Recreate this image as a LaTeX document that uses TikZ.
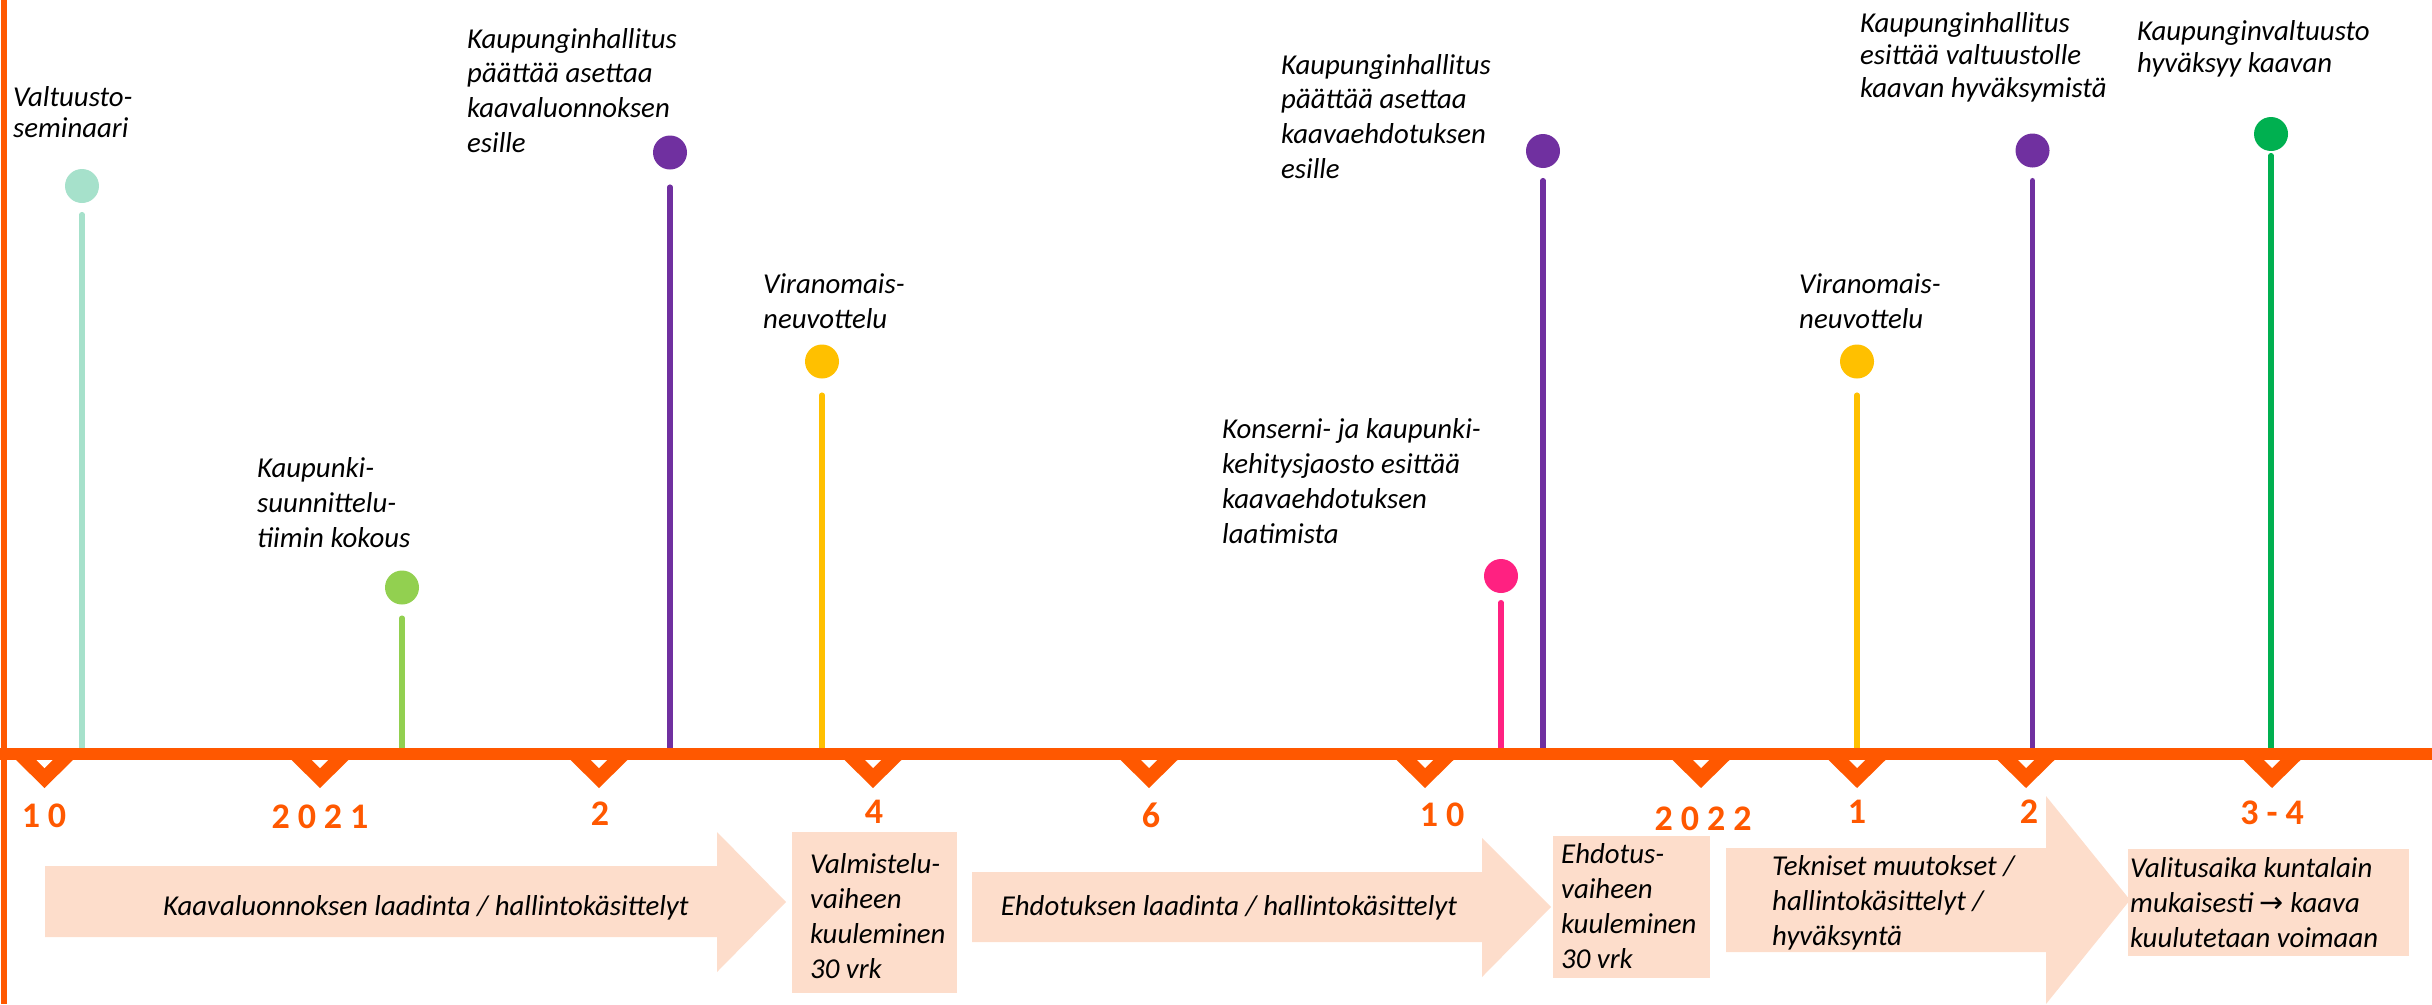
\documentclass[tikz,border=0pt]{standalone}
\usepackage{fontspec}
\setmainfont{Carlito}
\newfontfamily\arrowfont{DejaVu Sans}
\usetikzlibrary{calc}
\definecolor{tlorange}{HTML}{FF5800}
\definecolor{tlteal}{HTML}{A6E1CB}
\definecolor{tllgreen}{HTML}{92D050}
\definecolor{tlpurple}{HTML}{7030A0}
\definecolor{tlyellow}{HTML}{FFC000}
\definecolor{tlpink}{HTML}{FF2181}
\definecolor{tlgreen}{HTML}{00B050}
\definecolor{tlpeach}{HTML}{FDDDCB}
\newcommand\tkgap{\kern8pt}
\newcommand\lbl[2]{\fontsize{28.8}{#1}\selectfont\itshape\begin{tabular}[t]{@{}l@{}}#2\end{tabular}}
\tikzset{
  dot/.style={circle, inner sep=0pt, minimum size=34pt, fill=#1},
  stem/.style={line width=5.5pt, line cap=round, draw=#1},
  numlbl/.style={anchor=base, inner sep=0pt, text=tlorange, font=\fontsize{36}{40}\selectfont\bfseries},
  evlbl/.style={anchor=base west, inner sep=0pt, text=black},
  arrtext/.style={anchor=base, inner sep=0pt, text=black, font=\fontsize{28.8}{35}\selectfont\itshape},
  peach/.style={fill=tlpeach}
}
\begin{document}
\begin{tikzpicture}[x=1pt,y=-1pt]
\useasboundingbox (0,0) rectangle (2432,1004);
\coordinate (ax) at (0,754);
% dots
\node[dot=tlteal] (d1) at (82,186) {};
\node[dot=tllgreen] (d2) at (402,587.5) {};
\node[dot=tlpurple] (d3) at (670,152.5) {};
\node[dot=tlyellow] (d4) at (822,361.5) {};
\node[dot=tlpink] (d5) at (1501,576) {};
\node[dot=tlpurple] (d6) at (1543,151) {};
\node[dot=tlyellow] (d7) at (1857,361.5) {};
\node[dot=tlpurple] (d8) at (2032.5,150.5) {};
\node[dot=tlgreen] (d9) at (2271,134) {};
% stems
\draw[stem=tlteal] ($(d1.south)+(0,11.5)$) -- (d1 |- ax);
\draw[stem=tllgreen] ($(d2.south)+(0,13.5)$) -- (d2 |- ax);
\draw[stem=tlpurple] ($(d3.south)+(0,17.5)$) -- (d3 |- ax);
\draw[stem=tlyellow] ($(d4.south)+(0,16.5)$) -- (d4 |- ax);
\draw[stem=tlpink] ($(d5.south)+(0,9.5)$) -- (d5 |- ax);
\draw[stem=tlpurple] ($(d6.south)+(0,12.5)$) -- (d6 |- ax);
\draw[stem=tlyellow] ($(d7.south)+(0,16.5)$) -- (d7 |- ax);
\draw[stem=tlpurple] ($(d8.south)+(0,13)$) -- (d8 |- ax);
\draw[stem=tlgreen] ($(d9.south)+(0,4.5)$) -- (d9 |- ax);
% axes
\draw[tlorange, line width=6pt] (3.5,0) -- (3.5,1004);
\draw[tlorange, line width=12pt] (0,754) -- (2432,754);
\foreach \x in {44.5,320,599,873,1149,1425,1701,1857,2026,2272}{
  \fill[tlorange] (\x-29.5,759) -- (\x+29.5,759) -- (\x,788) -- cycle;
  \fill[white] (\x-8,760) -- (\x+8,760) -- (\x,768) -- cycle;
}
% tick labels
\node[numlbl] (n1) at (44,827) {1\tkgap 0};
\node[numlbl] (n2) at (320,828) {2\tkgap 0\tkgap 2\tkgap 1};
\node[numlbl] (n3) at (600,825) {2};
\node[numlbl] (n4) at (874,823) {4};
\node[numlbl] (n5) at (1151,827) {6};
\node[numlbl] (n6) at (1442,826) {1\tkgap 0};
\node[numlbl] (n7) at (1703,830) {2\tkgap 0\tkgap 2\tkgap 2};
\node[numlbl] (n8) at (1857,823) {1};
\node[numlbl] (n9) at (2029,823) {2};
\node[numlbl] (n10) at (2272,824) {3\tkgap -\tkgap 4};
% event labels
\node[evlbl] (t1) at (13,106) {\lbl{31.3}{Valtuusto-\\seminaari}};
\node[evlbl] (t2) at (257,477) {\lbl{35}{Kaupunki-\\suunnittelu-\\tiimin kokous}};
\node[evlbl] (t3) at (467,48) {\lbl{34.7}{Kaupunginhallitus\\päättää asettaa\\kaavaluonnoksen\\esille}};
\node[evlbl] (t4) at (763,293) {\lbl{35}{Viranomais-\\neuvottelu}};
\node[evlbl] (t5) at (1222,438) {\lbl{35.3}{Konserni- ja kaupunki-\\kehitysjaosto esittää\\kaavaehdotuksen\\laatimista}};
\node[evlbl] (t6) at (1281,74) {\lbl{34.7}{Kaupunginhallitus\\päättää asettaa\\kaavaehdotuksen\\esille}};
\node[evlbl] (t7) at (1799,293) {\lbl{35}{Viranomais-\\neuvottelu}};
\node[evlbl] (t8) at (1860,32) {\lbl{32.5}{Kaupunginhallitus\\esittää valtuustolle\\kaavan hyväksymistä}};
\node[evlbl] (t9) at (2137,40) {\lbl{32}{Kaupunginvaltuusto\\hyväksyy kaavan}};
% phase arrows and boxes
\fill[peach] (45,866) -- (717,866) -- (717,832) -- (786,902) -- (717,972) -- (717,937) -- (45,937) -- cycle;
\fill[peach] (792,832) rectangle (957,993);
\fill[peach] (972,872) -- (1482,872) -- (1482,838) -- (1551,907) -- (1482,977) -- (1482,942) -- (972,942) -- cycle;
\fill[peach] (1553,836) rectangle (1710,978);
\fill[peach] (1726,848) -- (2046,848) -- (2046,796) -- (2130,900) -- (2046,1004) -- (2046,952) -- (1726,952) -- cycle;
\fill[peach] (2128,849) rectangle (2409,956);
\node[arrtext] (p1) at (426,915) {Kaavaluonnoksen laadinta / hallintokäsittelyt};
\node[evlbl] (p2) at (810,873) {\lbl{35}{Valmistelu-\\vaiheen\\kuuleminen\\30 vrk}};
\node[arrtext] (p3) at (1229,915) {Ehdotuksen laadinta / hallintokäsittelyt};
\node[evlbl] (p4) at (1561,863) {\lbl{35}{Ehdotus-\\vaiheen\\kuuleminen\\30 vrk}};
\node[evlbl] (p5) at (1772,875) {\lbl{35}{Tekniset muutokset /\\hallintokäsittelyt /\\hyväksyntä}};
\node[evlbl] (p6) at (2130,877) {\lbl{35}{Valitusaika kuntalain\\mukaisesti {\arrowfont\upshape →} kaava\\kuulutetaan voimaan}};
\end{tikzpicture}
\end{document}
